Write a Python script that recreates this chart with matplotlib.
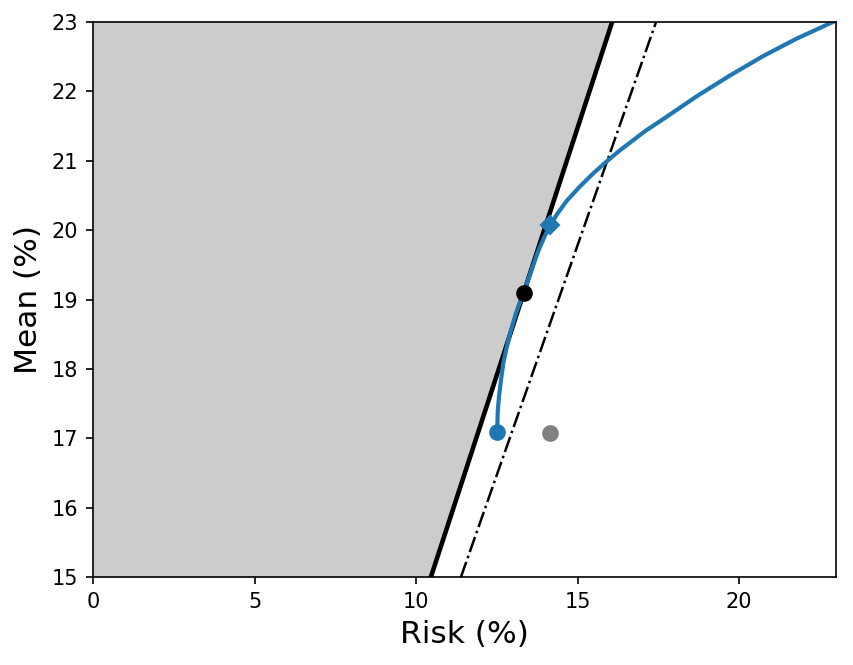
import numpy as np
import matplotlib
matplotlib.use("Agg")
import matplotlib.pyplot as plt

# efficient frontier (risk %, mean %)
frontier_risk = [12.516, 12.52, 12.528, 12.545, 12.568, 12.63, 12.70, 12.81, 12.94,
                 13.085, 13.22, 13.35, 13.475, 13.63, 13.785, 13.99, 14.17, 14.35,
                 14.66, 15.075, 15.49, 15.90, 16.31, 16.62, 17.10, 17.65, 18.69,
                 19.72, 20.75, 21.78, 22.81, 23.20]
frontier_mean = [17.094, 17.23, 17.36, 17.48, 17.60, 17.84, 18.08, 18.32, 18.56,
                 18.79, 18.97, 19.13, 19.29, 19.50, 19.70, 19.92, 20.08, 20.22,
                 20.42, 20.63, 20.82, 20.99, 21.15, 21.26, 21.43, 21.60, 21.93,
                 22.23, 22.51, 22.76, 22.98, 23.06]

# boundary lines (risk at mean = 15 and mean = 23)
line_mean = [15.0, 23.0]
solid_risk = [10.46, 16.07]
dashdot_risk = [11.39, 17.43]

# marked portfolios
min_var = (12.51, 17.09)
diamond_pt = (14.16, 20.08)
tangent_pt = (13.34, 19.10)
gray_pt = (14.15, 17.07)

fig = plt.figure(figsize=(853 / 150, 665 / 150), dpi=150)
ax = fig.add_axes([93 / 853, 88 / 665, 743 / 853, 555 / 665])

ax.fill_betweenx(line_mean, [0, 0], solid_risk, color='#cccccc', linewidth=0)
ax.plot(solid_risk, line_mean, color='black', linewidth=2.2)
ax.plot(dashdot_risk, line_mean, color='black', linewidth=1.2, linestyle='-.')

ax.plot(frontier_risk, frontier_mean, color='#1f77b4', linewidth=2)
ax.plot(*min_var, 'o', color='#1f77b4', markersize=7)
ax.plot(*diamond_pt, 'D', color='#1f77b4', markersize=6)
ax.plot(*tangent_pt, 'o', color='black', markersize=7)
ax.plot(*gray_pt, 'o', color='gray', markersize=7)

ax.set_xlim(0, 23)
ax.set_ylim(15, 23)
ax.set_xlabel('Risk (%)', fontsize=15)
ax.set_ylabel('Mean (%)', fontsize=15)

fig.savefig('out.png', dpi=150)
